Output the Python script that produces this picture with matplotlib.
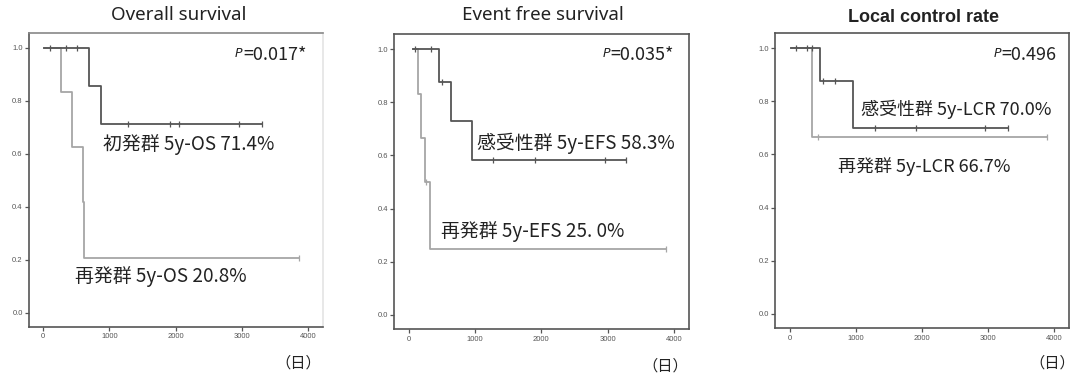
import matplotlib
matplotlib.use("Agg")
import matplotlib.pyplot as plt

plt.rcParams['font.family'] = ['Noto Sans CJK JP', 'DejaVu Sans']

# --- データ ---
titles = ["Overall survival", "Event free survival", "Local control rate"]
p_values = ["=0.017*", "=0.035*", "=0.496"]

# 初発群 / 感受性群 (濃い線)
dark_start = [10, 65, 15]
dark_events = [[688, 866], [454, 645, 958], [455, 959]]
dark_surv = [[0.857, 0.714], [0.875, 0.729, 0.583], [0.875, 0.700]]
dark_end = [3302, 3278, 3297]
dark_cens = [[95, 345, 510, 1287, 1913, 2050, 2957, 3302],
             [91, 343, 504, 1276, 1906, 2955, 3278],
             [100, 267, 342, 505, 682, 1288, 1918, 2955, 3297]]

# 再発群 (薄い線)
light_start = [10, 65, 15]
light_events = [[275, 441, 600, 620], [141, 192, 242, 328], [342]]
light_surv = [[0.833, 0.625, 0.417, 0.208], [0.833, 0.667, 0.500, 0.250], [0.667]]
light_end = [3870, 3873, 3888]
light_cens = [[3870], [268, 3873], [429, 3888]]

dark_labels = ["初発群 5y-OS 71.4%", "感受性群 5y-EFS 58.3%", "感受性群 5y-LCR 70.0%"]
dark_label_pos = [(907, 0.634), (1033, 0.646), (1076, 0.768)]
light_labels = ["再発群 5y-OS 20.8%", "再発群 5y-EFS 25. 0%", "再発群 5y-LCR 66.7%"]
light_label_pos = [(486, 0.136), (495, 0.313), (732, 0.554)]
p_pos = [(3975, 0.974), (3994, 0.979), (4035, 0.975)]

axes_rect = [[0.0269, 0.1372, 0.2727, 0.7757],
             [0.3658, 0.1311, 0.2734, 0.7784],
             [0.7192, 0.1338, 0.2724, 0.7784]]
title_xy = [(179, 15), (542.7, 15), (923, 18)]
day_xy = [(298, 363), (665, 366), (1052, 363)]
label_size = [13.6, 13.6, 13.0]

W, H = 1078, 379
fig = plt.figure(figsize=(W / 100, H / 100), dpi=100)

DARK = "#555555"
LIGHT = "#a6a6a6"
TXT = "#222222"


def steps(start, events, surv, end):
    xs = [start] + events + [end]
    ys = [1.0] + surv + [surv[-1]]
    return xs, ys


def surv_at(t, events, surv):
    s = 1.0
    for e, v in zip(events, surv):
        if t >= e:
            s = v
    return s


for i in range(3):
    ax = fig.add_axes(axes_rect[i])
    ax.set_xlim(-215, 4225)
    ax.set_ylim(-0.054, 1.056)

    xs, ys = steps(light_start[i], light_events[i], light_surv[i], light_end[i])
    ax.step(xs, ys, where='post', color=LIGHT, lw=1.3)
    ax.plot(light_cens[i], [surv_at(t, light_events[i], light_surv[i]) for t in light_cens[i]],
            ls='none', marker='|', ms=4, mew=0.9, color=LIGHT)

    xs, ys = steps(dark_start[i], dark_events[i], dark_surv[i], dark_end[i])
    ax.step(xs, ys, where='post', color=DARK, lw=1.3)
    ax.plot(dark_cens[i], [surv_at(t, dark_events[i], dark_surv[i]) for t in dark_cens[i]],
            ls='none', marker='|', ms=4, mew=0.9, color=DARK)

    ax.set_xticks([0, 1000, 2000, 3000, 4000])
    ax.set_yticks([0.0, 0.2, 0.4, 0.6, 0.8, 1.0])
    ax.set_yticklabels(["0.0", "0.2", "0.4", "0.6", "0.8", "1.0"])
    ax.tick_params(length=3, width=0.9, color="#555555", labelsize=5.5,
                   labelcolor="#555555", pad=1.5)
    for lab in ax.get_xticklabels() + ax.get_yticklabels():
        lab.set_family('Liberation Sans')
    for sp in ax.spines.values():
        sp.set_color("#555555")
        sp.set_linewidth(1.2)
    if i == 0:
        ax.spines['right'].set_color("#e4e4e4")
        ax.spines['top'].set_color("#888888")

    ax.text(dark_label_pos[i][0], dark_label_pos[i][1], dark_labels[i],
            fontsize=label_size[i], color=TXT, va='center', ha='left')
    ax.text(light_label_pos[i][0], light_label_pos[i][1], light_labels[i],
            fontsize=label_size[i], color=TXT, va='center', ha='left')
    t = ax.text(p_pos[i][0], p_pos[i][1], p_values[i], fontsize=13,
                color=TXT, va='center', ha='right')
    ax.annotate("P", xy=(-0.01, 0.2), xycoords=t, ha='right', va='bottom',
                fontsize=9, style='italic', family='DejaVu Sans', color=TXT)

    if i == 2:
        fig.text(title_xy[i][0] / W, 1 - title_xy[i][1] / H, titles[i],
                 ha='center', va='center', fontsize=13, fontweight='bold',
                 family='Liberation Sans', color=TXT)
    else:
        fig.text(title_xy[i][0] / W, 1 - title_xy[i][1] / H, titles[i],
                 ha='center', va='center', fontsize=13.5, family='Noto Sans',
                 color=TXT)
    fig.text(day_xy[i][0] / W, 1 - day_xy[i][1] / H, "（日）",
             ha='center', va='center', fontsize=11, color=TXT)

fig.savefig("out.png", dpi=100)
